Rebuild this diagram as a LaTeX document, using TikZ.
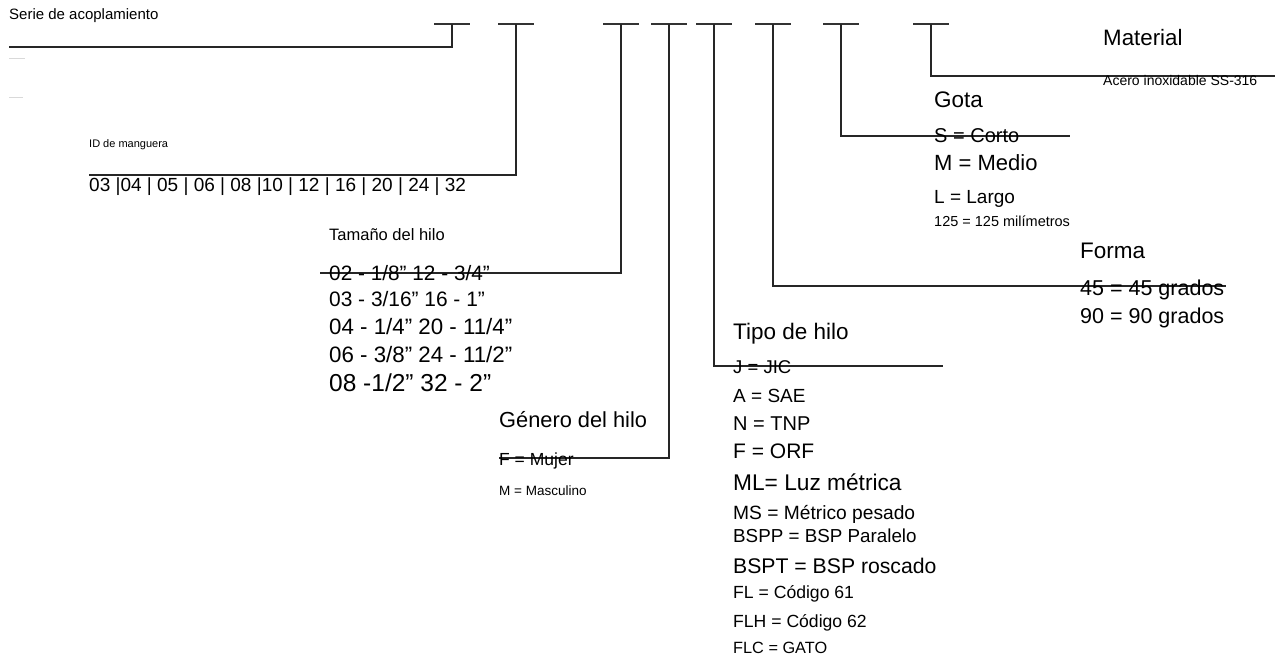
\documentclass[tikz,border=0pt]{standalone}
\usepackage{fontspec}
\setmainfont{Liberation Sans}
\newcommand{\fsz}[1]{\fontsize{#1}{#1}\selectfont}
\begin{document}
\begin{tikzpicture}[x=1pt,y=-1pt,
  ln/.style={line width=1.6pt, draw=black!85},
  bar/.style={line width=1.6pt, draw=black!80},
  faint/.style={line width=0.8pt, draw=black!15},
  lbl/.style={anchor=base west, inner sep=0pt, text=black}]
\useasboundingbox (0,0) rectangle (1275,659);
\fill[white] (0,0) rectangle (1275,659);

% top code bars
\foreach \n/\x in {1/452,2/516,3/621,4/669,5/714,6/773,7/841,8/931}{
  \coordinate (t\n) at (\x,24);
  \draw[bar] (\x-18,24) -- (\x+18,24);
}

% connector end points
\coordinate (e1) at (9,47);
\coordinate (e2) at (89,175);
\coordinate (e3) at (320,273);
\coordinate (e4) at (499,458);
\coordinate (e5) at (943,366);
\coordinate (e6) at (1226,286);
\coordinate (e7) at (1070,136);
\coordinate (e8) at (1275,76);

\draw[ln] (t1) |- (e1);
\draw[ln] (t2) |- (e2);
\draw[ln] (t3) |- (e3);
\draw[ln] (t4) |- (e4);
\draw[ln] (t5) |- (e5);
\draw[ln] (t6) |- (e6);
\draw[ln] (t7) |- (e7);
\draw[ln] (t8) |- (e8);

% faint marks at left
\coordinate (f1a) at (9,58); \coordinate (f1b) at (25,58);
\coordinate (f2a) at (9,97); \coordinate (f2b) at (23,97);
\draw[faint] (f1a) -- (f1b);
\draw[faint] (f2a) -- (f2b);

% Serie
\node[lbl, font=\fsz{15}] (serie) at (9,19) {Serie de acoplamiento};

% ID de manguera
\node[lbl, font=\fsz{11}] (idm) at (89,147) {ID de manguera};
\node[lbl, font=\fsz{19}] (ids) at (89,191) {03 |04 | 05 | 06 | 08 |10 | 12 | 16 | 20 | 24 | 32};

% Tamano del hilo
\node[lbl, font=\fsz{16.5}] (tam) at (329,240) {Tamaño del hilo};
\node[lbl, font=\fsz{20.8}] (tr1) at (329,280) {02 - 1/8” 12 - 3/4”};
\node[lbl, font=\fsz{20.9}] (tr2) at (329,306) {03 - 3/16” 16 - 1”};
\node[lbl, font=\fsz{22.3}] (tr3) at (329,334) {04 - 1/4” 20 - 11/4”};
\node[lbl, font=\fsz{22.3}] (tr4) at (329,362) {06 - 3/8” 24 - 11/2”};
\node[lbl, font=\fsz{24.5}] (tr5) at (329,391) {08 -1/2” 32 - 2”};

% Genero del hilo
\node[lbl, font=\fsz{21.8}] (gen) at (499,427) {Género del hilo};
\node[lbl, font=\fsz{17.5}] (gf) at (499,465) {F = Mujer};
\node[lbl, font=\fsz{13.5}] (gm) at (499,495) {M = Masculino};

% Tipo de hilo
\node[lbl, font=\fsz{22.5}] (tipo) at (733,339) {Tipo de hilo};
\node[lbl, font=\fsz{18.5}] (ty1) at (733,373) {J = JIC};
\node[lbl, font=\fsz{19}] (ty2) at (733,402) {A = SAE};
\node[lbl, font=\fsz{20}] (ty3) at (733,430) {N = TNP};
\node[lbl, font=\fsz{21}] (ty4) at (733,458) {F = ORF};
\node[lbl, font=\fsz{22.7}] (ty5) at (733,490) {ML= Luz métrica};
\node[lbl, font=\fsz{19.2}] (ty6) at (733,519) {MS = Métrico pesado};
\node[lbl, font=\fsz{18.8}] (ty7) at (733,542) {BSPP = BSP Paralelo};
\node[lbl, font=\fsz{21.2}] (ty8) at (733,573) {BSPT = BSP roscado};
\node[lbl, font=\fsz{17.6}] (ty9) at (733,598) {FL = Código 61};
\node[lbl, font=\fsz{17.6}] (ty10) at (733,627) {FLH = Código 62};
\node[lbl, font=\fsz{16.3}] (ty11) at (733,653) {FLC = GATO};

% Forma
\node[lbl, font=\fsz{22.5}] (forma) at (1080,258) {Forma};
\node[lbl, font=\fsz{21.5}] (fo1) at (1080,295) {45 = 45 grados};
\node[lbl, font=\fsz{21.5}] (fo2) at (1080,323) {90 = 90 grados};

% Gota
\node[lbl, font=\fsz{22.5}] (gota) at (934,107) {Gota};
\node[lbl, font=\fsz{20}] (go1) at (934,142) {S = Corto};
\node[lbl, font=\fsz{22}] (go2) at (934,170) {M = Medio};
\node[lbl, font=\fsz{19}] (go3) at (934,203) {L = Largo};
\node[lbl, font=\fsz{14.5}] (go4) at (934,226) {125 = 125 milímetros};

% Material
\node[lbl, font=\fsz{22.3}] (mat) at (1103,45) {Material};
\node[lbl, font=\fsz{14}] (mat1) at (1103,85) {Acero inoxidable SS-316};
\end{tikzpicture}
\end{document}
